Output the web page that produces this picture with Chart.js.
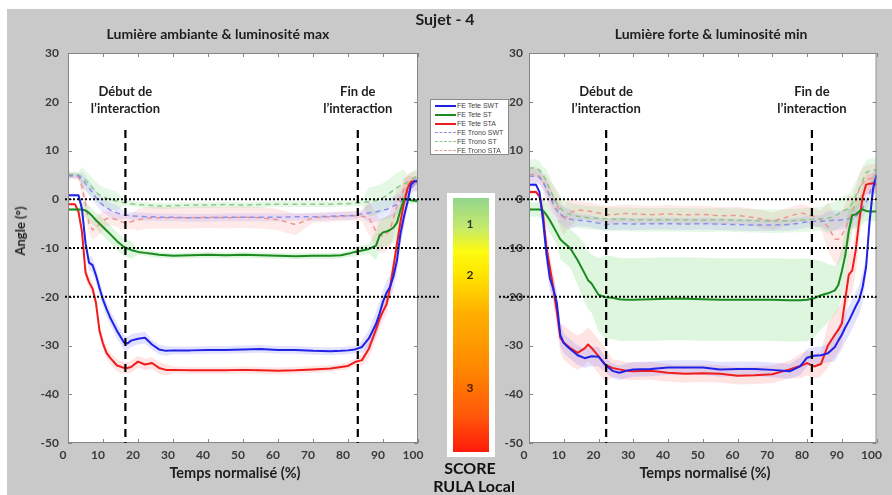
<!DOCTYPE html>
<html>
<head>
<meta charset="utf-8">
<script src="https://cdn.jsdelivr.net/npm/chart.js@4.4.1/dist/chart.umd.min.js"></script>
<style>
  body { margin: 0; width: 892px; height: 495px; background: #fff; position: relative; overflow: hidden; font-family: Lato, "Open Sans", sans-serif; }
  #bg { position: absolute; left: 7px; top: 9px; width: 885px; height: 486px; background: #c9c9c9; }
  canvas { position: absolute; top: 0; }
  .txt { position: absolute; font-weight: bold; color: #1e1e1e; white-space: nowrap; transform: translate(-50%, -50%); }
  #legend { position: absolute; left: 430px; top: 99px; width: 79px; height: 56px; background: #fff; border: 1px solid #8a8a8a; box-sizing: border-box; padding-top: 1px; }
  .leg { height: 9.1px; position: relative; font-family: "Liberation Sans", Arial, sans-serif; font-size: 7px; color: #444; line-height: 9px; white-space: nowrap; }
  .leg span { position: absolute; left: 26px; top: 0; }
  .leg i { position: absolute; left: 4px; top: 4px; width: 21px; height: 0; }
  #scale { position: absolute; left: 447px; top: 193px; width: 48px; height: 264px; background: #fff; }
  #grad { position: absolute; left: 6px; top: 5px; width: 36px; height: 254px;
    background: linear-gradient(to bottom, #93d68e 0%, #c6ea6a 12%, #fdfb10 21%, #ffe600 30%, #ffb000 45%, #ff8c00 65%, #ff5a0a 85%, #ff1a0a 100%); }
</style>
</head>
<body>
<div id="bg"></div>
<canvas id="left" width="446" height="495" style="left:0"></canvas>
<canvas id="right" width="446" height="495" style="left:446px"></canvas>

<div class="txt" style="left:445px;top:18px;font-size:16px">Sujet - 4</div>
<div class="txt" style="left:218px;top:33px;font-size:14px">Lumière ambiante &amp; luminosité max</div>
<div class="txt" style="left:711px;top:33px;font-size:14px">Lumière forte &amp; luminosité min</div>
<div class="txt" style="left:20px;top:231px;font-size:13px;transform:translate(-50%,-50%) rotate(-90deg)">Angle (°)</div>
<div class="txt" style="left:235px;top:472px;font-size:14.5px">Temps normalisé (%)</div>
<div class="txt" style="left:705px;top:472px;font-size:14.5px">Temps normalisé (%)</div>

<div id="legend"></div>

<div id="scale"><div id="grad"></div></div>
<div class="txt" style="left:470px;top:223px;font-size:12px;color:#333">1</div>
<div class="txt" style="left:470px;top:274px;font-size:12px;color:#3a2a00">2</div>
<div class="txt" style="left:470px;top:387px;font-size:12px;color:#4a1a00">3</div>
<div class="txt" style="left:470px;top:467px;font-size:16px;color:#111">SCORE</div>
<div class="txt" style="left:474px;top:485px;font-size:16px;color:#111">RULA Local</div>

<script>
// temps normalisé (%), grille commune aux deux graphiques
const timeGrid = [0,2,3,4,5,6,7,8,9,10,11,12,14,16,17,18,20,22,24,26,28,30,35,40,45,50,55,60,65,70,75,78,80,82,84,86,88,89,90,91,92,93,94,95,96,97,98,99,100];

const seriesNames = ['FE Tete SWT', 'FE Tete ST', 'FE Tete STA', 'FE Trono SWT', 'FE Trono ST', 'FE Trono STA'];
const refLevels = [0, -10, -20];
const markerTop = 14.2;

// Lumière ambiante & luminosité max
const L_teteSWT = [0.8,0.8,0.8,-2.0,-9.0,-13.0,-13.5,-15.6,-18.2,-20.6,-22.5,-24.2,-27.0,-29.4,-29.6,-29.0,-28.6,-28.4,-29.8,-30.8,-31.1,-31.0,-31.0,-30.9,-30.9,-30.8,-30.7,-30.9,-30.9,-31.1,-31.2,-31.1,-31.0,-30.8,-30.3,-28.5,-25.6,-23.5,-21.0,-19.2,-18.0,-15.8,-12.5,-7.0,-3.5,-0.6,3.0,3.7,3.7];
const L_teteST = [-2.1,-2.1,-2.1,-2.1,-2.3,-2.8,-3.5,-4.3,-5.0,-5.7,-6.4,-7.1,-8.6,-9.8,-10.1,-10.4,-10.8,-11.0,-11.2,-11.4,-11.5,-11.6,-11.5,-11.4,-11.5,-11.4,-11.5,-11.6,-11.7,-11.6,-11.6,-11.5,-11.2,-10.8,-10.5,-10.2,-9.5,-7.5,-6.8,-6.6,-6.3,-5.8,-4.8,-2.2,0.0,0.0,-0.2,-0.3,-0.4];
const L_teteSTA = [-1.0,-1.0,-2.6,-6.7,-15.0,-17.0,-18.3,-21.3,-27.0,-29.6,-31.5,-32.5,-34.1,-34.6,-34.6,-34.4,-33.3,-33.9,-33.6,-34.6,-35.0,-35.0,-35.1,-35.1,-35.1,-35.0,-35.1,-35.2,-35.1,-34.9,-34.7,-34.4,-34.2,-33.4,-33.0,-30.6,-26.7,-24.6,-23.0,-21.6,-18.2,-13.8,-9.1,-4.6,-0.7,2.2,3.6,3.7,3.7];
const L_troncSWT = [4.8,4.8,4.8,4.2,3.2,2.3,1.4,0.3,-0.5,-1.2,-1.7,-2.2,-2.8,-3.2,-3.3,-3.4,-3.5,-3.6,-3.6,-3.7,-3.7,-3.7,-3.8,-3.8,-3.7,-3.7,-3.7,-3.7,-3.6,-3.6,-3.5,-3.4,-3.4,-3.3,-3.0,-2.8,-2.6,-2.4,-2.2,-2.1,-1.8,-1.4,-1.0,-0.5,0.3,1.3,2.3,3.0,3.2];
const L_troncST = [5.1,5.1,5.0,4.6,3.9,3.1,2.3,1.5,0.9,0.5,0.2,0.0,-0.4,-0.7,-0.8,-0.9,-1.1,-1.2,-1.3,-1.4,-1.4,-1.3,-1.2,-1.2,-1.1,-1.2,-1.1,-1.0,-1.0,-1.0,-1.0,-0.9,-0.9,-0.8,-0.7,-0.5,-0.3,0.0,0.3,0.8,1.3,1.9,2.4,2.8,3.1,3.5,4.0,4.5,4.8];
const L_troncSTA = [4.8,4.8,4.6,2.5,-1.0,-5.0,-6.3,-5.8,-5.1,-4.4,-4.0,-3.8,-4.2,-4.8,-4.7,-4.6,-4.2,-3.9,-3.8,-3.8,-3.8,-3.8,-3.8,-3.7,-3.8,-3.7,-3.8,-4.2,-5.2,-3.8,-3.6,-3.5,-3.4,-3.4,-3.5,-3.8,-6.6,-7.3,-7.6,-7.0,-6.4,-3.8,-1.3,0.5,2.1,3.0,3.6,3.7,3.7];

// écarts-types (bandes)
const sdL_teteSWT = [0.3,0.3,0.3,1.5,1.5,1.5,1.5,1.5,1.5,1.5,1.5,1.5,1.5,1.5,1.4,1.3,1.2,1.2,1.0,1.0,1.0,0.8,0.8,0.8,0.8,0.8,0.8,0.8,0.8,0.8,0.8,0.8,0.8,0.8,1.2,1.8,2.5,2.5,2.5,2.5,2.5,2.5,2.5,2.5,2.0,1.5,1.0,0.8,0.6];
const sdL_teteST = [0.3,0.3,0.3,1.5,1.5,1.5,1.5,1.5,1.8,1.8,1.8,1.8,1.8,1.8,1.8,1.8,0.6,0.6,0.6,0.6,0.6,0.6,0.6,0.6,0.6,0.6,0.6,0.6,0.6,0.6,0.6,0.6,0.6,1.0,1.0,1.0,3.0,3.0,3.0,3.0,3.0,3.0,3.0,1.5,1.2,1.0,0.8,0.6,0.5];
const sdL_teteSTA = [0.3,0.3,0.3,1.2,1.2,1.2,1.2,1.2,1.2,1.2,1.2,1.2,1.2,1.2,1.2,1.2,1.2,1.2,1.2,1.2,1.2,0.7,0.7,0.7,0.7,0.7,0.7,0.7,0.7,0.7,0.7,0.7,0.7,0.7,1.2,1.8,2.0,2.0,2.0,2.0,2.0,2.0,2.0,4.0,5.0,2.5,1.2,0.8,0.6];
const sdL_troncSWT = [0.6,0.6,0.6,1.5,1.5,1.5,1.5,1.5,1.5,1.5,1.5,1.5,1.5,0.8,0.8,0.8,0.8,0.8,0.8,0.8,0.8,0.8,0.8,0.8,0.8,0.8,0.8,0.8,0.8,0.8,0.8,0.8,0.8,0.8,0.8,2.0,2.0,2.0,2.0,2.0,2.0,2.0,2.0,2.0,2.0,1.5,1.5,1.5,1.5];
const sdL_troncST = [0.6,0.6,0.6,2.0,2.0,2.0,2.0,2.0,2.0,2.0,2.0,2.0,2.0,0.6,0.6,0.6,0.6,0.6,0.6,0.6,0.6,0.6,0.6,0.6,0.6,0.6,0.6,0.6,0.6,0.6,0.6,0.6,0.6,0.6,0.6,3.0,3.0,3.0,3.0,3.0,3.0,3.0,3.0,3.0,3.0,1.5,1.5,1.5,1.5];
const sdL_troncSTA = [0.6,0.6,0.6,2.0,2.0,2.0,2.0,2.0,2.0,2.0,1.5,1.5,1.5,1.5,1.5,1.5,2.2,2.2,2.2,2.2,2.2,2.2,2.2,2.2,2.2,2.2,2.2,2.2,2.2,1.0,1.0,1.0,1.0,1.0,1.0,3.5,3.5,3.5,3.5,3.5,3.5,3.5,3.5,2.0,2.0,2.0,2.0,2.0,2.0];

// Lumière forte & luminosité min
const R_teteSWT = [3.0,3.0,1.5,-4.0,-11.0,-16.2,-18.4,-21.3,-27.8,-29.5,-30.2,-30.8,-32.0,-32.6,-32.4,-32.2,-32.3,-34.0,-35.2,-35.6,-35.2,-34.9,-34.8,-34.5,-34.5,-34.5,-34.9,-34.8,-34.8,-35.0,-35.3,-34.3,-32.5,-32.1,-32.0,-31.6,-30.3,-29.0,-27.8,-26.3,-25.0,-23.5,-22.0,-20.6,-18.0,-13.8,-4.5,2.2,5.0];
const R_teteST = [-2.1,-2.1,-2.1,-2.3,-3.2,-4.3,-5.6,-6.9,-8.2,-8.9,-9.5,-10.2,-12.5,-15.2,-16.6,-17.3,-19.6,-20.1,-20.2,-20.5,-20.6,-20.6,-20.5,-20.4,-20.4,-20.5,-20.6,-20.6,-20.6,-20.6,-20.7,-20.7,-20.6,-20.3,-19.7,-19.3,-18.7,-17.6,-14.8,-11.5,-6.5,-3.3,-3.1,-2.5,-2.1,-2.4,-2.5,-2.5,-2.5];
const R_teteSTA = [1.5,1.5,0.6,-3.0,-9.8,-14.0,-18.2,-23.0,-28.4,-29.4,-30.0,-30.6,-31.5,-30.6,-29.8,-30.5,-32.2,-34.0,-34.6,-34.9,-35.2,-35.3,-35.2,-35.6,-35.8,-35.7,-35.8,-36.2,-36.1,-35.9,-34.9,-34.2,-33.6,-34.3,-33.8,-30.0,-27.8,-26.8,-25.5,-20.5,-15.5,-14.6,-10.5,-4.5,0.5,3.0,3.2,3.3,3.0];
const R_troncSWT = [4.7,4.7,4.5,3.5,2.2,0.6,-1.0,-2.3,-3.0,-3.6,-3.9,-4.1,-4.3,-4.4,-4.5,-4.6,-4.9,-5.2,-5.1,-5.0,-5.0,-5.1,-5.0,-5.0,-5.1,-5.0,-5.1,-5.2,-5.3,-5.3,-5.2,-4.9,-4.6,-4.5,-4.5,-4.4,-4.3,-4.3,-4.2,-4.2,-4.0,-3.9,-3.5,-2.8,-1.8,-0.6,1.2,3.5,4.5];
const R_troncST = [6.4,6.4,6.0,5.0,3.7,2.0,0.5,-0.8,-1.8,-2.5,-2.9,-3.2,-3.5,-3.7,-3.8,-3.8,-3.9,-4.0,-4.1,-4.1,-4.1,-4.2,-4.2,-4.2,-4.2,-4.3,-4.2,-4.3,-4.4,-4.5,-4.4,-4.3,-4.2,-4.1,-4.0,-3.9,-3.5,-3.0,-2.5,-2.2,-1.9,-0.8,0.7,2.1,3.8,5.5,5.8,6.0,6.0];
const R_troncSTA = [5.1,5.1,4.7,3.8,2.0,0.8,-0.1,-1.0,-2.8,-4.4,-3.3,-2.7,-2.2,-2.3,-2.4,-2.5,-2.8,-3.1,-3.2,-3.0,-2.9,-3.0,-3.2,-3.0,-3.2,-3.1,-3.4,-3.3,-3.8,-4.5,-3.5,-2.8,-3.1,-3.6,-4.2,-5.6,-8.2,-8.2,-7.4,-6.0,-4.2,-2.6,-0.5,2.1,3.3,4.0,4.2,4.3,4.3];

const sdR_teteSWT = [0.4,0.4,0.4,2.5,2.5,2.5,2.5,2.5,2.5,2.0,2.0,2.0,2.0,2.0,2.0,2.0,2.0,1.5,1.5,1.5,1.5,1.5,1.5,1.5,1.5,1.5,1.5,1.5,1.5,1.5,1.5,1.8,1.8,1.8,1.8,1.8,3.0,3.0,3.0,3.0,3.0,3.0,3.0,3.0,3.0,2.0,2.0,2.0,2.0];
const sdR_teteST = [1.5,1.5,1.5,2.5,2.5,2.5,2.5,2.5,4.0,4.0,4.0,4.0,5.0,6.0,6.0,6.0,7.5,8.5,8.5,8.5,8.5,8.5,8.5,8.5,8.5,8.5,8.5,8.5,8.5,8.5,8.5,8.5,8.5,8.0,7.0,6.0,5.0,5.0,5.0,5.0,5.0,3.0,3.0,3.0,3.0,2.0,2.0,2.0,2.0];
const sdR_teteSTA = [0.5,0.5,0.5,3.0,3.0,3.0,3.0,3.0,3.0,3.5,3.5,3.5,3.5,3.5,3.5,3.5,3.5,3.5,1.8,1.8,1.8,1.8,1.8,1.8,1.8,1.8,1.8,1.8,1.8,1.8,1.8,2.5,2.5,2.5,2.5,4.5,4.5,4.5,4.5,4.5,4.5,4.5,4.5,4.5,2.0,2.0,2.0,2.0,2.0];
const sdR_troncSWT = [1.5,1.5,1.5,1.5,2.0,2.0,2.0,2.0,2.0,2.0,2.0,2.0,1.2,1.2,1.2,1.2,1.2,1.2,1.2,1.2,1.2,1.2,1.2,1.2,1.2,1.2,1.2,1.2,1.2,1.2,1.2,1.2,1.2,1.2,1.2,2.0,2.0,2.0,2.0,2.0,2.0,2.0,2.0,2.0,2.0,2.0,2.0,2.0,2.0];
const sdR_troncST = [1.8,1.8,1.8,1.8,2.5,2.5,2.5,2.5,2.5,2.5,2.5,2.5,2.4,2.4,2.4,2.4,2.4,2.4,2.4,2.4,2.4,2.4,2.4,2.4,2.4,2.4,2.4,2.4,2.4,2.4,2.4,2.4,2.4,2.4,2.4,3.0,3.0,3.0,3.0,3.0,3.0,3.0,3.0,3.0,3.0,2.5,2.5,2.5,2.5];
const sdR_troncSTA = [1.5,1.5,1.5,1.5,3.0,3.0,3.0,3.0,3.0,3.0,3.0,3.0,1.8,1.8,1.8,1.8,1.8,1.8,1.8,1.8,1.8,1.8,1.8,1.8,1.8,1.8,1.8,1.8,1.8,1.8,1.8,1.8,1.8,1.8,1.8,5.0,5.0,5.0,5.0,5.0,5.0,3.0,3.0,3.0,3.0,3.0,3.0,3.0,3.0];

// début / fin de l'interaction (% du temps)
const leftMarkers = [16.4, 82.8];
const rightMarkers = [22.2, 81.4];
const markerLabels = [['Début de', 'l\u2019interaction'], ['Fin de', 'l\u2019interaction']];

const lineColors = ['#1f22e6', '#1b8a1f', '#f01c1c', '#8e90e8', '#8cc88a', '#eb9891'];
const bandColors = ['rgba(90,90,255,0.17)', 'rgba(70,200,70,0.18)', 'rgba(255,90,90,0.16)',
                    'rgba(90,90,255,0.12)', 'rgba(70,200,70,0.14)', 'rgba(255,90,90,0.13)'];

// légende
const legendEl = document.getElementById('legend');
seriesNames.forEach((name, i) => {
  const row = document.createElement('div');
  row.className = 'leg';
  const style = i < 3 ? 'solid' : 'dashed';
  row.innerHTML = `<i style="border-top:${i < 3 ? 2 : 1.5}px ${style} ${lineColors[i]}"></i><span>${name}</span>`;
  legendEl.appendChild(row);
});

const framePlugin = {
  id: 'frame',
  beforeDraw(chart) {
    const a = chart.chartArea, ctx = chart.ctx;
    ctx.save();
    ctx.fillStyle = '#fff';
    ctx.fillRect(a.left, a.top, a.right - a.left, a.bottom - a.top);
    ctx.restore();
  },
  afterDatasetsDraw(chart, args, opts) {
    const a = chart.chartArea, ctx = chart.ctx;
    const xs = chart.scales.x, ys = chart.scales.y;
    ctx.save();
    // cadre + graduations intérieures
    ctx.strokeStyle = '#858585';
    ctx.lineWidth = 1;
    ctx.strokeRect(a.left + 0.5, a.top + 0.5, a.right - a.left - 1, a.bottom - a.top - 1);
    ctx.beginPath();
    xs.ticks.forEach(t => {
      const px = Math.round(xs.getPixelForValue(t.value)) + 0.5;
      ctx.moveTo(px, a.bottom); ctx.lineTo(px, a.bottom - 4);
      ctx.moveTo(px, a.top); ctx.lineTo(px, a.top + 4);
    });
    ys.ticks.forEach(t => {
      const py = Math.round(ys.getPixelForValue(t.value)) + 0.5;
      ctx.moveTo(a.left, py); ctx.lineTo(a.left + 4, py);
      ctx.moveTo(a.right, py); ctx.lineTo(a.right - 4, py);
    });
    ctx.stroke();

    // niveaux de référence (pointillés)
    ctx.strokeStyle = '#000';
    ctx.lineWidth = 2;
    ctx.setLineDash([2, 2]);
    refLevels.forEach(v => {
      const py = ys.getPixelForValue(v);
      ctx.beginPath();
      ctx.moveTo(a.left + opts.extL, py);
      ctx.lineTo(a.right + opts.extR, py);
      ctx.stroke();
    });

    // début / fin d'interaction
    ctx.setLineDash([8, 5]);
    ctx.lineWidth = 2.2;
    const top = ys.getPixelForValue(markerTop);
    ctx.fillStyle = '#1e1e1e';
    ctx.font = 'bold 13px Lato';
    ctx.textAlign = 'center';
    ctx.textBaseline = 'middle';
    opts.markers.forEach((m, i) => {
      const px = xs.getPixelForValue(m);
      ctx.beginPath();
      ctx.moveTo(px, top);
      ctx.lineTo(px, a.bottom);
      ctx.stroke();
      ctx.fillText(markerLabels[i][0], px, top - 38);
      ctx.fillText(markerLabels[i][1], px, top - 21);
    });
    ctx.restore();
  }
};

function makeChart(id, lines, spreads, markers, pad, yWidth, ext) {
  const datasets = [];
  lines.forEach((ys, i) => {
    datasets.push({
      data: ys.map((y, k) => ({ x: timeGrid[k], y })),
      borderColor: lineColors[i],
      borderWidth: i < 3 ? 2 : 1.5,
      borderDash: i < 3 ? [] : [5, 4],
      fill: false
    });
  });
  lines.forEach((ys, i) => {
    datasets.push({
      data: ys.map((y, k) => ({ x: timeGrid[k], y: y + spreads[i][k] })),
      borderColor: 'rgba(0,0,0,0)', borderWidth: 1, fill: false
    });
    datasets.push({
      data: ys.map((y, k) => ({ x: timeGrid[k], y: y - spreads[i][k] })),
      borderColor: 'rgba(0,0,0,0)', borderWidth: 1,
      backgroundColor: bandColors[i], fill: '-1'
    });
  });

  return new Chart(document.getElementById(id), {
    type: 'line',
    data: { datasets },
    plugins: [framePlugin],
    options: {
      responsive: false,
      animation: false,
      devicePixelRatio: 1,
      events: [],
      layout: { padding: pad },
      elements: { point: { radius: 0 }, line: { tension: 0, borderJoinStyle: 'round' } },
      plugins: {
        legend: { display: false },
        tooltip: { enabled: false },
        frame: { markers, extL: ext[0], extR: ext[1] }
      },
      scales: {
        x: {
          type: 'linear', min: 0, max: 100,
          grid: { display: false, drawTicks: false },
          border: { display: false },
          ticks: { stepSize: 10, padding: 5, labelOffset: -5, color: '#3a3a3a', font: { family: 'Lato', size: 12, weight: 'bold' } },
          afterFit: s => { s.height = 30; }
        },
        y: {
          min: -50, max: 30,
          grid: { display: false, drawTicks: false },
          border: { display: false },
          ticks: { stepSize: 10, padding: pad.left < 35 ? 9 : 6, color: '#3a3a3a', font: { family: 'Lato', size: 12, weight: 'bold' } },
          afterFit: s => { s.width = yWidth; }
        }
      }
    }
  });
}

makeChart('left',
  [L_teteSWT, L_teteST, L_teteSTA, L_troncSWT, L_troncST, L_troncSTA],
  [sdL_teteSWT, sdL_teteST, sdL_teteSTA, sdL_troncSWT, sdL_troncST, sdL_troncSTA],
  leftMarkers, { left: 28, right: 28, top: 53, bottom: 22 }, 40, [-3, 22]);

makeChart('right',
  [R_teteSWT, R_teteST, R_teteSTA, R_troncSWT, R_troncST, R_troncSTA],
  [sdR_teteSWT, sdR_teteST, sdR_teteSTA, sdR_troncSWT, sdR_troncST, sdR_troncSTA],
  rightMarkers, { left: 43, right: 12, top: 53, bottom: 22 }, 40, [-30, 0]);
</script>
</body>
</html>
